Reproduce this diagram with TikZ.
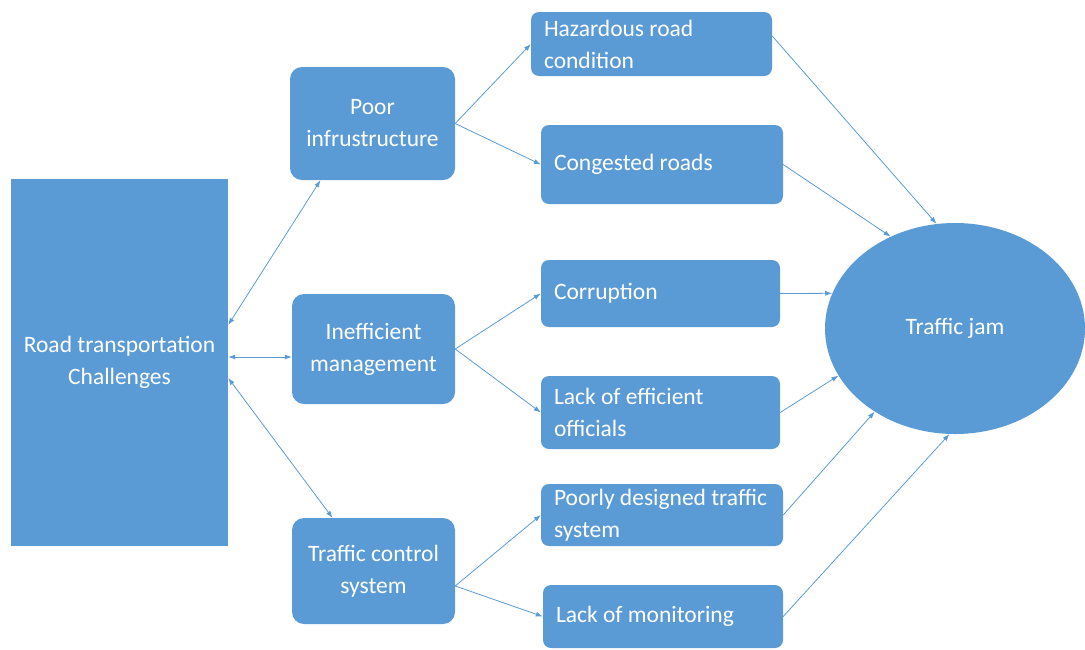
\documentclass[tikz,border=0pt]{standalone}
\usepackage{fontspec}
\setmainfont{Carlito}
\usetikzlibrary{arrows.meta}
\usetikzlibrary{shapes.geometric}
\definecolor{boxblue}{rgb}{0.357,0.608,0.835}

\begin{document}
\begin{tikzpicture}[x=1pt,y=-1pt,
  every node/.style={font=\fontsize{23.5}{32}\selectfont,text=white},
  box/.style={fill=boxblue,rounded corners=12pt,inner sep=0pt,align=center},
  item/.style={fill=boxblue,rounded corners=8pt,inner xsep=13pt,inner ysep=0pt,align=flush left},
  link/.style={-{Latex[length=7pt,width=5pt]},boxblue,line width=0.8pt},
  both/.style={{Latex[length=7pt,width=5pt]}-{Latex[length=7pt,width=5pt]},boxblue,line width=0.8pt}]

\useasboundingbox (0,0) rectangle (1085,649);

\node [fill=boxblue,align=center,minimum width=217pt,minimum height=367pt]
      (road) at (119.5,362.5) {Road transportation\\Challenges};

\node [box,minimum width=165pt,minimum height=113pt] (poor)  at (372.5,123.5) {Poor\\infrustructure};
\node [box,minimum width=163pt,minimum height=110pt] (ineff) at (373.5,349.0) {Inefficient\\management};
\node [box,minimum width=163pt,minimum height=106pt] (tcs)   at (373.5,571.0) {Traffic control\\system};

\node [item,text width=215pt,minimum height=64pt] (hazard)  at (651.5,44.0)  {Hazardous road\\condition};
\node [item,text width=216pt,minimum height=79pt] (cong)    at (662.0,164.5) {Congested roads};
\node [item,text width=213pt,minimum height=67pt] (corr)    at (660.5,293.5) {Corruption};
\node [item,text width=213pt,minimum height=73pt] (lackeff) at (660.5,412.5) {Lack of efficient\\officials};
\node [item,text width=216pt,minimum height=62pt] (poorly)  at (662.0,515.0) {Poorly designed traffic\\system};
\node [item,text width=214pt,minimum height=63pt] (lackmon) at (663.0,616.5) {Lack of monitoring};

\node [ellipse,fill=boxblue,inner sep=0pt,minimum width=260pt,minimum height=211pt]
      (jam) at (955,328.5) {Traffic jam};

% challenges to causes
\draw [both] ([yshift=37.5pt]road.east) -- ([xshift=-52pt]poor.south);
\draw [both] ([yshift=5.5pt]road.east) -- ([yshift=-8pt]ineff.west);
\draw [both] ([yshift=-15.5pt]road.east) -- ([xshift=-41pt]tcs.north);

\draw [link] (poor.east) -- (hazard.west);
\draw [link] (poor.east) -- (cong.west);
\draw [link] (ineff.east) -- (corr.west);
\draw [link] (ineff.east) -- (lackeff.west);
\draw [link] ([yshift=-15pt]tcs.east) -- (poorly.west);
\draw [link] ([yshift=-15pt]tcs.east) -- (lackmon.west);

% everything ends up in the jam
\draw [link] ([yshift=8pt]hazard.east) -- (jam.100);
\draw [link] (cong.east) -- (jam.125);
\draw [link] (corr.east) -- (jam.164);
\draw [link] (lackeff.east) -- (jam.202);
\draw [link] (poorly.east) -- (jam.226);
\draw [link] (lackmon.east) -- (jam.267);

\end{tikzpicture}
\end{document}
